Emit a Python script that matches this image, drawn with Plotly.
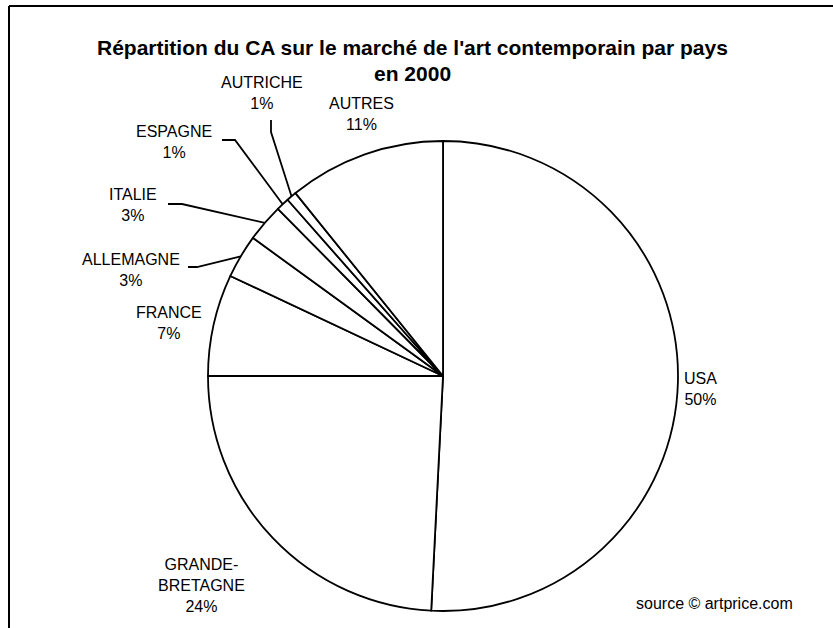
import math
import plotly.graph_objects as go

# ---- data ----
countries = ["USA", "GRANDE-<br>BRETAGNE", "FRANCE", "ALLEMAGNE", "ITALIE",
             "ESPAGNE", "AUTRICHE", "AUTRES"]
shares = [50.8, 24.2, 7.0, 3.0, 2.6, 0.9, 0.7, 10.8]
pct_labels = ["50%", "24%", "7%", "3%", "3%", "1%", "1%", "11%"]

W, H = 833, 628
CX, CY, R = 443, 376, 235

# label block centres (pixels) – layout only
label_pos = [(700, 389), (201, 585), (169, 323), (131, 270), (133, 205),
             (174, 142), (262, 93), (361, 114)]
# leader line elbows (pixels), None = no leader
leader_pts = [None, None, None,
              [(188, 267), (197, 267)],
              [(168, 204), (182, 204)],
              [(222, 140), (235, 140)],
              [(271, 120), (271, 132)],
              None]


def px(x):
    return x / W


def py(y):
    return 1 - y / H


fig = go.Figure()
fig.add_trace(go.Pie(
    labels=countries, values=shares, sort=False, direction="clockwise",
    rotation=0, textinfo="none", hoverinfo="none", showlegend=False,
    marker=dict(colors=["white"] * len(shares), line=dict(color="black", width=1.8)),
    domain=dict(x=[px(CX - R), px(CX + R)], y=[py(CY + R), py(CY - R)]),
))

font = dict(family="Liberation Sans, Arial, sans-serif", size=16, color="black")
title_font = dict(family="Liberation Sans, Arial, sans-serif", size=21, color="black")
annotations = []
shapes = []
total = sum(shares)
cum = 0.0
for i, (name, v) in enumerate(zip(countries, shares)):
    mid = (cum + v / 2) / total * 2 * math.pi
    cum += v
    lx, ly = label_pos[i]
    annotations.append(dict(
        x=px(lx), y=py(ly), xref="paper", yref="paper", showarrow=False,
        text=f"{name}<br>{pct_labels[i]}", font=font, align="center",
        xanchor="center", yanchor="middle"))
    if leader_pts[i]:
        ex = CX + R * math.sin(mid)
        ey = CY - R * math.cos(mid)
        pts = leader_pts[i] + [(ex, ey)]
        path = "M " + " L ".join(f"{px(a):.5f},{py(b):.5f}" for a, b in pts)
        shapes.append(dict(type="path", path=path, xref="paper", yref="paper",
                           line=dict(color="black", width=1.8)))

annotations.append(dict(x=px(412), y=py(47), xref="paper", yref="paper", showarrow=False,
                        text="<b>Répartition du CA sur le marché de l'art contemporain par pays</b>",
                        font=title_font, xanchor="center", yanchor="middle"))
annotations.append(dict(x=px(412), y=py(74), xref="paper", yref="paper", showarrow=False,
                        text="<b>en 2000</b>", font=title_font,
                        xanchor="center", yanchor="middle"))
annotations.append(dict(x=px(795), y=py(603), xref="paper", yref="paper", showarrow=False,
                        text="source © artprice.com", font=font,
                        xanchor="right", yanchor="middle"))

# outer frame (top and left edges visible)
shapes.append(dict(type="line", xref="paper", yref="paper", x0=px(9), x1=1.0,
                   y0=py(6), y1=py(6), line=dict(color="black", width=2)))
shapes.append(dict(type="line", xref="paper", yref="paper", x0=px(9), x1=px(9),
                   y0=py(6), y1=0, line=dict(color="black", width=2)))

fig.update_layout(width=W, height=H, margin=dict(l=0, r=0, t=0, b=0),
                  paper_bgcolor="white", plot_bgcolor="white",
                  annotations=annotations, shapes=shapes)
fig.write_html("out.html", config={"displayModeBar": False},
               post_script="document.body.style.margin='0';document.body.style.overflow='hidden';")
